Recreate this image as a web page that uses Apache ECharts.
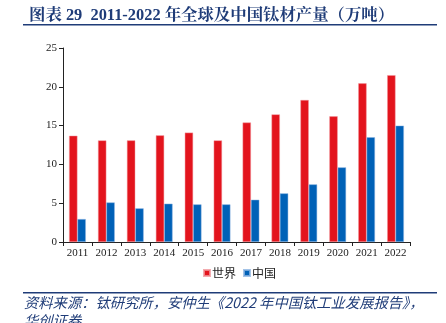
<!DOCTYPE html>
<html><head><meta charset="utf-8">
<script src="https://cdn.jsdelivr.net/npm/echarts@6/dist/echarts.min.js"></script>
<style>html,body{margin:0;padding:0;background:#fff}#c{width:446px;height:323px}</style>
</head><body><div id="c"></div>
<script>
const years = ['2011','2012','2013','2014','2015','2016','2017','2018','2019','2020','2021','2022'];
const world = [13.7, 13.1, 13.1, 13.75, 14.1, 13.1, 15.4, 16.45, 18.3, 16.2, 20.45, 21.5];
const china = [2.96, 5.1, 4.34, 4.94, 4.85, 4.85, 5.45, 6.27, 7.43, 9.62, 13.5, 15.0];
const yTicks = [0, 5, 10, 15, 20, 25];
const seriesNames = ['世界', '中国'];

const chart = echarts.init(document.getElementById('c'));
const serif = '"Liberation Serif","DejaVu Serif",serif';
chart.setOption({
  animation: false,
  title: {
    text: '图表 29  2011-2022 年全球及中国钛材产量（万吨）',
    left: 24, top: 3,
    textStyle: {color: '#1f3c78', fontSize: 16.4, fontWeight: 'bold', fontFamily: '"Liberation Serif","Noto Serif CJK SC","Noto Sans CJK SC",serif'}
  },
  graphic: [
    {type: 'rect', shape: {x: 23, y: 24, width: 414, height: 1.6}, style: {fill: '#1f3c78'}},
    {type: 'rect', shape: {x: 23, y: 292, width: 414, height: 1.6}, style: {fill: '#1f3c78'}},
    {type: 'text', left: 24, top: 295, style: {text: '资料来源：钛研究所，安仲生《2022 年中国钛工业发展报告》，', fill: '#1f3c78', font: 'italic 14.3px "Noto Sans CJK SC",sans-serif'}},
    {type: 'text', left: 24, top: 313, style: {text: '华创证券', fill: '#1f3c78', font: 'italic 14.3px "Noto Sans CJK SC",sans-serif'}}
  ],
  legend: {
    data: seriesNames, top: 262, left: 198, itemWidth: 6, itemHeight: 6, itemGap: 7,
    icon: 'rect',
    textStyle: {fontSize: 12, color: '#222', fontFamily: '"Noto Sans CJK SC",sans-serif', padding: [0,0,0,-3]}
  },
  grid: {left: 63, right: 36, top: 48, bottom: 81},
  xAxis: {
    type: 'category', data: years,
    axisLine: {lineStyle: {color: '#222'}},
    axisTick: {show: true, alignWithLabel: false, length: 4, lineStyle: {color: '#222'}},
    axisLabel: {color: '#222', fontSize: 11, fontFamily: serif, margin: 6}
  },
  yAxis: {
    type: 'value', min: 0, max: 25, interval: 5,
    axisLine: {show: true, lineStyle: {color: '#222'}},
    axisTick: {show: true, length: 4, lineStyle: {color: '#222'}},
    splitLine: {show: false},
    axisLabel: {color: '#222', fontSize: 11, fontFamily: serif, margin: 6,
      formatter: v => yTicks.includes(v) ? String(v) : ''}
  },
  series: [
    {name: seriesNames[0], type: 'bar', data: world, barGap: '0%', barCategoryGap: '42%',
     itemStyle: {color: '#e3141d', borderColor: 'rgba(240,150,155,0.8)', borderWidth: 0.6}},
    {name: seriesNames[1], type: 'bar', data: china,
     itemStyle: {color: '#0061b7', borderColor: 'rgba(140,180,225,0.8)', borderWidth: 0.6}}
  ]
});
</script></body></html>
